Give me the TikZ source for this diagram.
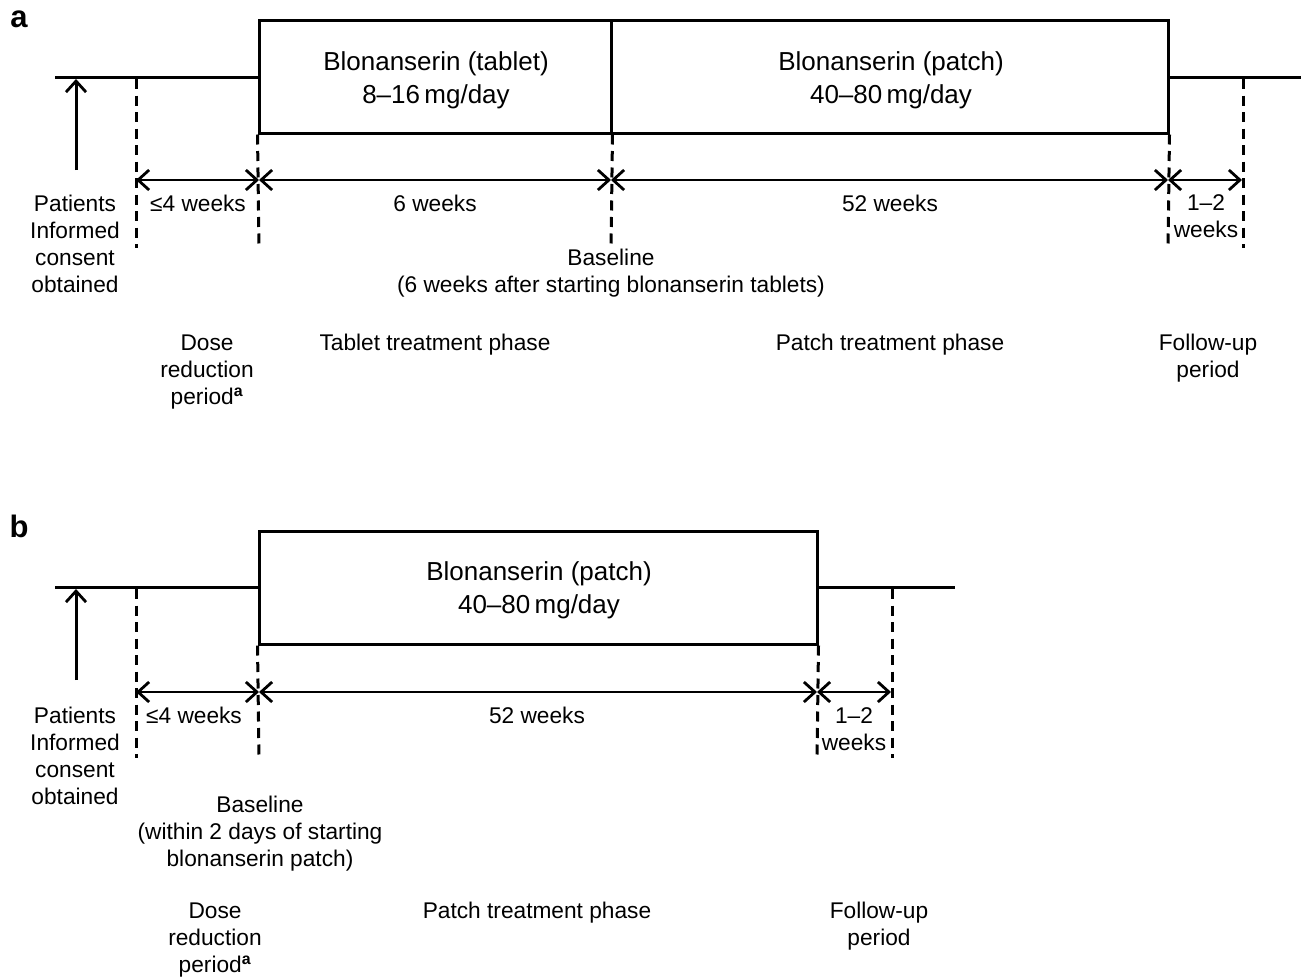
\documentclass[tikz,border=0pt]{standalone}
\usepackage{fontspec}
\setmainfont{Liberation Sans}
\newfontfamily\boxfont{Liberation Sans}
\usetikzlibrary{arrows.meta}
\tikzset{
  solidln/.style={line width=3pt, line cap=butt},
  dashln/.style={line width=3pt, dash pattern=on 10pt off 6.5pt},
  dimln/.style={line width=2.8pt, {Straight Barb[length=11pt,width=20pt,line width=2.8pt]}-{Straight Barb[length=11pt,width=20pt,line width=2.8pt]}},
  uparr/.style={line width=3pt, -{Straight Barb[length=11pt,width=20pt,line width=2.8pt]}},
  boxnode/.style={draw, line width=3pt, inner sep=0pt},
  boxtext/.style={inner sep=0pt, align=center, font=\boxfont\fontsize{26}{33}\selectfont},
  lbl/.style={inner sep=0pt, align=center, font=\fontsize{22.7}{27}\selectfont},
  panel/.style={inner sep=0pt, font=\fontsize{31}{34}\selectfont\bfseries},
}
\begin{document}
\begin{tikzpicture}[x=1pt,y=-1pt]
\useasboundingbox (0,0) rectangle (1301,977);
% ---------------- panel a ----------------
\node[panel] (pa) at (19,19) {a};
\node[boxnode, minimum width=352pt, minimum height=113pt] (tab) at (435,76.5) {};
\node[boxnode, minimum width=557pt, minimum height=113pt] (pat) at (889.5,76.5) {};
\node[boxtext] (tabt) at (436,80) {Blonanserin (tablet)\\8–16\,mg/day};
\node[boxtext] (patt) at (891,80) {Blonanserin (patch)\\40–80\,mg/day};
\coordinate (aS) at (55,77);
\coordinate (aE) at (1301,77);
\draw[solidln] (aS) -- (tab.west |- aS);
\draw[solidln] (pat.east |- aE) -- (aE);
% upward arrow
\coordinate (aArrB) at (76,170);
\coordinate (aArrT) at (76,79);
\draw[uparr] (aArrB) -- (aArrT);
% dashed lines
\coordinate (ad1t) at (136,79); \coordinate (ad1b) at (136,248);
\coordinate (ad2b) at (259,248);
\coordinate (ad3b) at (611,248);
\coordinate (ad4b) at (1168,248);
\coordinate (ad5t) at (1243,79); \coordinate (ad5b) at (1243,248);
\draw[dashln] (ad1t) -- (ad1b);
\draw[dashln] (tab.south west) -- (ad2b);
\draw[dashln] (tab.south east) -- (ad3b);
\draw[dashln] (pat.south east) -- (ad4b);
\draw[dashln] (ad5t) -- (ad5b);
% dimension arrows
\coordinate (am1) at (136,180); \coordinate (am2) at (259,180);
\coordinate (am3) at (611,180); \coordinate (am4) at (1168,180);
\coordinate (am5) at (1242,180);
\draw[dimln] (am1) -- (am2);
\draw[dimln] (am2) -- (am3);
\draw[dimln] (am3) -- (am4);
\draw[dimln] (am4) -- (am5);
% labels
\node[lbl] (aw1) at (198,203) {≤4 weeks};
\node[lbl] (aw2) at (435,203) {6 weeks};
\node[lbl] (aw3) at (890,203) {52 weeks};
\node[lbl] (aw4) at (1206,216) {1–2\\weeks};
\node[lbl] (apat) at (75,244) {Patients\\Informed\\consent\\obtained};
\node[lbl] (abase) at (611,273) {Baseline\\(6 weeks after starting blonanserin tablets)};
\node[lbl] (adose) at (207,372) {Dose\\reduction\\period\textsuperscript{\textbf{a}}};
\node[lbl] (atab) at (435,345) {Tablet treatment phase};
\node[lbl] (apph) at (890,345) {Patch treatment phase};
\node[lbl] (afol) at (1208,358) {Follow-up\\period};
% ---------------- panel b ----------------
\node[panel] (pb) at (19,526) {b};
\node[boxnode, minimum width=558pt, minimum height=113pt] (bpat) at (538,587.5) {};
\node[boxtext] (bpatt) at (539,590) {Blonanserin (patch)\\40–80\,mg/day};
\coordinate (bS) at (55,587);
\coordinate (bE) at (955,587);
\draw[solidln] (bS) -- (bpat.west |- bS);
\draw[solidln] (bpat.east |- bE) -- (bE);
\coordinate (bArrB) at (76,680);
\coordinate (bArrT) at (76,589);
\draw[uparr] (bArrB) -- (bArrT);
\coordinate (bd1t) at (136,589); \coordinate (bd1b) at (136,758);
\coordinate (bd2b) at (259,758);
\coordinate (bd3b) at (817,758);
\coordinate (bd4t) at (892,589); \coordinate (bd4b) at (892,758);
\draw[dashln] (bd1t) -- (bd1b);
\draw[dashln] (bpat.south west) -- (bd2b);
\draw[dashln] (bpat.south east) -- (bd3b);
\draw[dashln] (bd4t) -- (bd4b);
\coordinate (bm1) at (136,692); \coordinate (bm2) at (259,692);
\coordinate (bm3) at (817,692); \coordinate (bm4) at (891,692);
\draw[dimln] (bm1) -- (bm2);
\draw[dimln] (bm2) -- (bm3);
\draw[dimln] (bm3) -- (bm4);
\node[lbl] (bw1) at (194,715) {≤4 weeks};
\node[lbl] (bw2) at (537,715) {52 weeks};
\node[lbl] (bw3) at (854,729) {1–2\\weeks};
\node[lbl] (bpatn) at (75,756) {Patients\\Informed\\consent\\obtained};
\node[lbl] (bbase) at (260,834) {Baseline\\(within 2 days of starting\\blonanserin patch)};
\node[lbl] (bdose) at (215,940) {Dose\\reduction\\period\textsuperscript{\textbf{a}}};
\node[lbl] (bpph) at (537,913) {Patch treatment phase};
\node[lbl] (bfol) at (879,926) {Follow-up\\period};
\end{tikzpicture}
\end{document}
